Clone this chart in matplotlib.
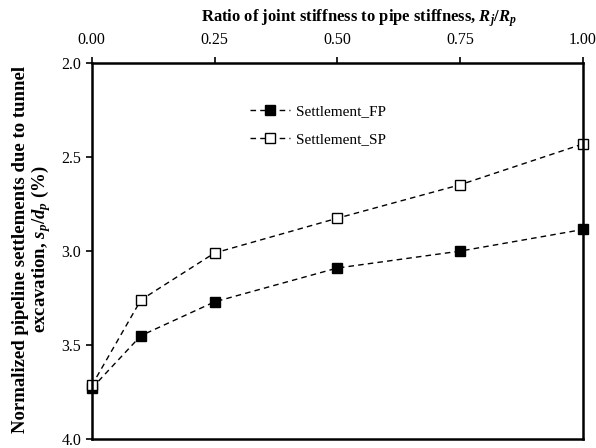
import matplotlib
matplotlib.use("Agg")
import matplotlib.pyplot as plt

# data
ratio = [0.0, 0.10, 0.25, 0.50, 0.75, 1.00]
settlement_fp = [3.73, 3.45, 3.27, 3.09, 3.00, 2.885]
settlement_sp = [3.715, 3.26, 3.01, 2.825, 2.647, 2.43]
x_ticks = [0.0, 0.25, 0.50, 0.75, 1.00]
y_ticks = [2.0, 2.5, 3.0, 3.5, 4.0]

plt.rcParams['font.family'] = ['Liberation Serif', 'DejaVu Serif']
plt.rcParams['mathtext.fontset'] = 'custom'
plt.rcParams['mathtext.rm'] = 'Liberation Serif'
plt.rcParams['mathtext.it'] = 'Liberation Serif:italic:bold'
plt.rcParams['mathtext.bf'] = 'Liberation Serif:bold'

fig = plt.figure(figsize=(5.96, 4.48), dpi=100)
ax = fig.add_axes([0.154, 0.02, 0.824, 0.839])

ax.plot(ratio, settlement_fp, linestyle='--', color='black', linewidth=1,
        marker='s', markersize=7, markerfacecolor='black',
        markeredgecolor='black', label='Settlement_FP', clip_on=False, dashes=(4, 3))
ax.plot(ratio, settlement_sp, linestyle='--', color='black', linewidth=1,
        marker='s', markersize=7, markerfacecolor='white',
        markeredgecolor='black', markeredgewidth=1, label='Settlement_SP',
        clip_on=False, dashes=(4, 3))

ax.set_xlim(0, 1)
ax.set_ylim(4.0, 2.0)
ax.set_xticks(x_ticks)
ax.set_xticklabels([f"{t:.2f}" for t in x_ticks])
ax.set_yticks(y_ticks)
ax.set_yticklabels([f"{t:.1f}" for t in y_ticks])

ax.xaxis.tick_top()
ax.xaxis.set_label_position('top')
ax.tick_params(axis='both', direction='out', length=4, width=1.2, labelsize=11.5)
ax.tick_params(axis='x', pad=7)

for s in ax.spines.values():
    s.set_linewidth(1.8)

ax.set_xlabel(r"Ratio of joint stiffness to pipe stiffness, $R_j$/$R_p$",
              fontsize=12, fontweight='bold')
ax.xaxis.set_label_coords(0.545, 1.11)
ax.set_ylabel("Normalized pipeline settlements due to tunnel\n"
              r"excavation, $s_p$/$d_p$ (%)",
              fontsize=13.5, fontweight='bold', linespacing=1.05)
ax.yaxis.set_label_coords(-0.078, 0.505)

ax.legend(loc='upper left', bbox_to_anchor=(0.294, 0.927), frameon=False,
          fontsize=11, handlelength=2.6, handletextpad=0.4, labelspacing=0.95)

fig.savefig("out.png", dpi=100)
